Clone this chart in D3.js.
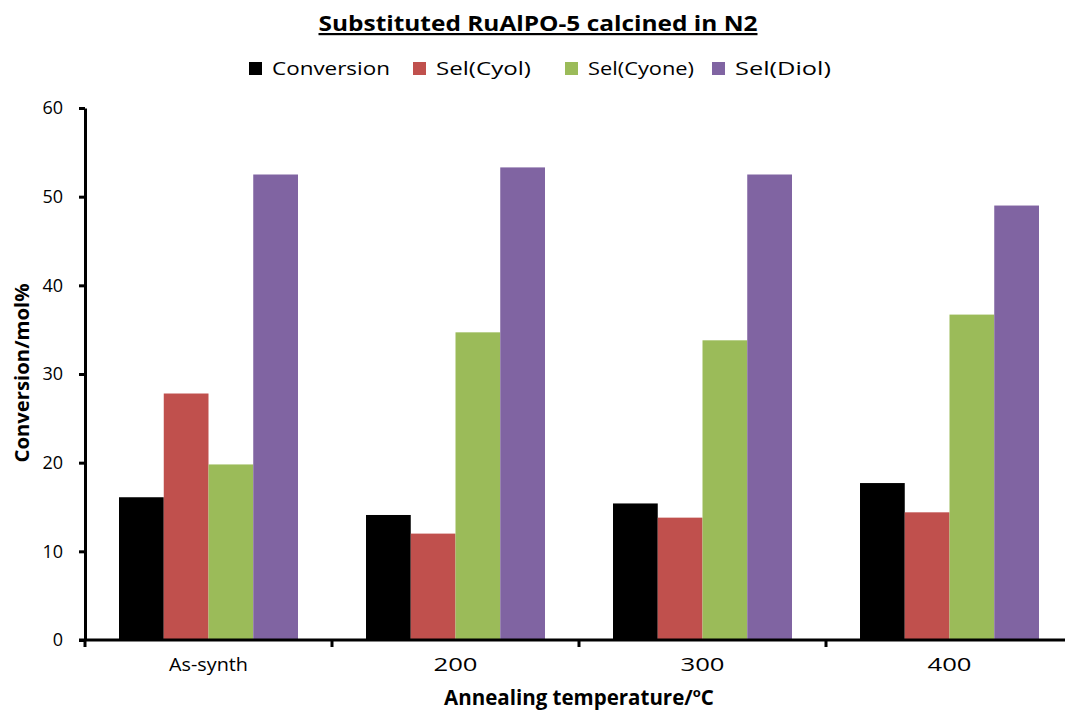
<!DOCTYPE html>
<meta charset="utf-8">
<style>
body { margin: 0; background: #fff; }
text { font-family: "Open Sans", Lato, sans-serif; fill: #000; }
.axis path, .axis line { stroke: #000; }
.axis text { font-size: 18px; }
</style>
<script src="https://d3js.org/d3.v7.min.js"></script>
<svg width="1065" height="711"></svg>
<script>

var categories = ["As-synth", "200", "300", "400"];
var seriesNames = ["Conversion", "Sel(Cyol)", "Sel(Cyone)", "Sel(Diol)"];
var seriesColors = ["#000000", "#c0504d", "#9bbb59", "#8064a2"];
var conversion = [16.1, 14.1, 15.4, 17.7];
var selCyol = [27.8, 12.0, 13.8, 14.4];
var selCyone = [19.8, 34.7, 33.8, 36.7];
var selDiol = [52.5, 53.3, 52.5, 49.0];
var yTicks = [0, 10, 20, 30, 40, 50, 60];

var values = [conversion, selCyol, selCyone, selDiol];

var svg = d3.select("svg");

var margin = {left: 85, top: 108, bottom: 640},
    bandW = 247;

var x = d3.scaleBand()
    .domain(categories)
    .range([margin.left, margin.left + bandW * categories.length]);

var x1 = d3.scaleBand()
    .domain(seriesNames)
    .range([0, bandW])
    .paddingOuter(0.76)
    .paddingInner(0);

var y = d3.scaleLinear()
    .domain([0, 60])
    .range([margin.bottom, margin.top]);

// bars
var groups = svg.append("g").selectAll("g")
    .data(categories)
    .enter().append("g")
    .attr("transform", function(d) { return "translate(" + x(d) + ",0)"; });

groups.selectAll("rect")
    .data(function(d, i) {
        return seriesNames.map(function(s, j) { return {s: s, v: values[j][i], c: seriesColors[j]}; });
    })
    .enter().append("rect")
    .attr("x", function(d) { return x1(d.s); })
    .attr("width", x1.bandwidth())
    .attr("y", function(d) { return y(d.v); })
    .attr("height", function(d) { return y(0) - y(d.v); })
    .attr("fill", function(d) { return d.c; });

// y axis
var yAxis = svg.append("g")
    .attr("class", "axis")
    .attr("transform", "translate(" + margin.left + ",0)")
    .call(d3.axisLeft(y).tickValues(yTicks).tickSize(6).tickSizeOuter(0).tickPadding(16));
yAxis.select(".domain").attr("stroke-width", 3);
yAxis.selectAll(".tick line").attr("stroke-width", 3);
yAxis.selectAll(".tick text").attr("font-size", 18).attr("font-family", null);

// x axis - ticks at category boundaries
var xAxis = svg.append("g")
    .attr("class", "axis")
    .attr("transform", "translate(0," + margin.bottom + ")");
xAxis.append("line")
    .attr("x1", margin.left - 6).attr("x2", 1065)
    .attr("stroke-width", 3);
xAxis.selectAll("line.tk")
    .data(d3.range(categories.length + 1))
    .enter().append("line")
    .attr("class", "tk")
    .attr("x1", function(d) { return margin.left + d * bandW; })
    .attr("x2", function(d) { return margin.left + d * bandW; })
    .attr("y1", 0).attr("y2", 7)
    .attr("stroke-width", 3);
var catLen = [79, 44, 44, 44];
xAxis.selectAll("text")
    .data(categories)
    .enter().append("text")
    .attr("x", function(d) { return x(d) + x.bandwidth() / 2; })
    .attr("y", 31)
    .attr("text-anchor", "middle")
    .attr("font-size", 18)
    .attr("textLength", function(d, i) { return catLen[i]; })
    .attr("lengthAdjust", "spacingAndGlyphs")
    .text(function(d) { return d; });

// title
svg.append("text")
    .attr("x", 538)
    .attr("y", 31)
    .attr("text-anchor", "middle")
    .attr("font-size", 22)
    .attr("font-weight", "bold")
    .attr("text-decoration", "underline")
    .attr("textLength", 439)
    .attr("lengthAdjust", "spacingAndGlyphs")
    .text("Substituted RuAlPO-5 calcined in N2");

// legend
var legendX = [249, 413, 565, 712];
var legendLen = [118, 95, 106, 96];
var legend = svg.append("g").selectAll("g")
    .data(seriesNames)
    .enter().append("g")
    .attr("transform", function(d, i) { return "translate(" + legendX[i] + ",62)"; });
legend.append("rect")
    .attr("width", 13).attr("height", 13)
    .attr("fill", function(d, i) { return seriesColors[i]; });
legend.append("text")
    .attr("x", 23).attr("y", 13)
    .attr("font-size", 19)
    .attr("textLength", function(d, i) { return legendLen[i]; })
    .attr("lengthAdjust", "spacingAndGlyphs")
    .text(function(d) { return d; });

// axis titles
svg.append("text")
    .attr("transform", "translate(29,373) rotate(-90)")
    .attr("text-anchor", "middle")
    .attr("font-size", 19)
    .attr("font-weight", "bold")
    .attr("textLength", 179)
    .attr("lengthAdjust", "spacingAndGlyphs")
    .text("Conversion/mol%");

var xt = svg.append("text")
    .attr("x", 579)
    .attr("y", 705)
    .attr("text-anchor", "middle")
    .attr("font-size", 20.5)
    .attr("font-weight", "bold");
xt.append("tspan").text("Annealing temperature/");
xt.append("tspan").attr("font-size", 13).attr("dy", -8).text("o");
xt.append("tspan").attr("dy", 8).text("C");

</script>
